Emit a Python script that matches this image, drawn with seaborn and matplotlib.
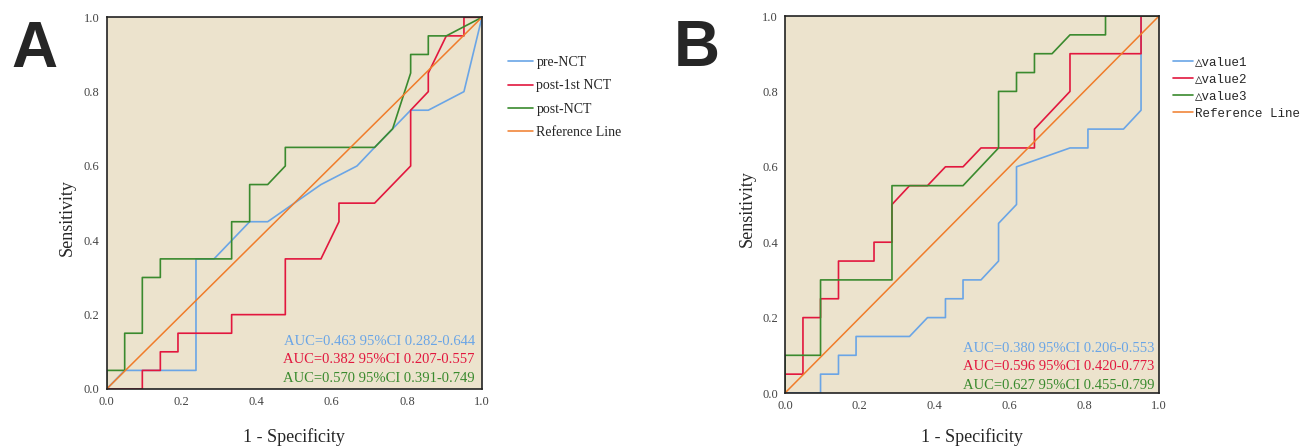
import matplotlib
matplotlib.use("Agg")
import matplotlib.pyplot as plt
import seaborn as sns

sns.set_style("white")
plt.rcParams["font.family"] = ["Liberation Serif", "DejaVu Serif"]

BG = "#ECE3CD"
BLUE = "#6AA5E6"
RED = "#E2173E"
GREEN = "#3A8A2E"
ORANGE = "#F07C2A"

# ---- panel A: ROC points (1 - specificity, sensitivity) ----
a_pre_x = [0, 0.048, 0.238, 0.238, 0.286, 0.381, 0.429, 0.571, 0.667, 0.714, 0.762, 0.810, 0.857, 0.952, 1.0]
a_pre_y = [0, 0.05, 0.05, 0.35, 0.35, 0.45, 0.45, 0.55, 0.60, 0.65, 0.70, 0.75, 0.75, 0.80, 1.0]

a_post1_x = [0, 0.095, 0.095, 0.143, 0.143, 0.190, 0.190, 0.333, 0.333, 0.476, 0.476, 0.571,
             0.619, 0.619, 0.714, 0.810, 0.810, 0.857, 0.857, 0.905, 0.952, 0.952, 1.0]
a_post1_y = [0, 0, 0.05, 0.05, 0.10, 0.10, 0.15, 0.15, 0.20, 0.20, 0.35, 0.35,
             0.45, 0.50, 0.50, 0.60, 0.75, 0.80, 0.85, 0.95, 0.95, 1.0, 1.0]

a_post_x = [0, 0, 0.048, 0.048, 0.095, 0.095, 0.143, 0.143, 0.333, 0.333, 0.381, 0.381,
            0.429, 0.476, 0.476, 0.714, 0.762, 0.810, 0.810, 0.857, 0.857, 0.905, 1.0]
a_post_y = [0, 0.05, 0.05, 0.15, 0.15, 0.30, 0.30, 0.35, 0.35, 0.45, 0.45, 0.55,
            0.55, 0.60, 0.65, 0.65, 0.70, 0.85, 0.90, 0.90, 0.95, 0.95, 1.0]

a_labels = ["pre-NCT", "post-1st NCT", "post-NCT", "Reference Line"]
a_auc = ["AUC=0.463 95%CI 0.282-0.644",
         "AUC=0.382 95%CI 0.207-0.557",
         "AUC=0.570 95%CI 0.391-0.749"]

# ---- panel B ----
b_v1_x = [0, 0.095, 0.095, 0.143, 0.143, 0.190, 0.190, 0.333, 0.381, 0.429, 0.429, 0.476, 0.476,
          0.524, 0.571, 0.571, 0.619, 0.619, 0.762, 0.810, 0.810, 0.905, 0.952, 0.952, 1.0]
b_v1_y = [0, 0, 0.05, 0.05, 0.10, 0.10, 0.15, 0.15, 0.20, 0.20, 0.25, 0.25, 0.30,
          0.30, 0.35, 0.45, 0.50, 0.60, 0.65, 0.65, 0.70, 0.70, 0.75, 1.0, 1.0]

b_v2_x = [0, 0, 0.048, 0.048, 0.095, 0.095, 0.143, 0.143, 0.238, 0.238, 0.286, 0.286,
          0.333, 0.381, 0.429, 0.476, 0.524, 0.667, 0.667, 0.762, 0.762, 0.952, 0.952, 1.0]
b_v2_y = [0, 0.05, 0.05, 0.20, 0.20, 0.25, 0.25, 0.35, 0.35, 0.40, 0.40, 0.50,
          0.55, 0.55, 0.60, 0.60, 0.65, 0.65, 0.70, 0.80, 0.90, 0.90, 1.0, 1.0]

b_v3_x = [0, 0, 0.095, 0.095, 0.286, 0.286, 0.476, 0.571, 0.571, 0.619, 0.619,
          0.667, 0.667, 0.714, 0.762, 0.857, 0.857, 1.0]
b_v3_y = [0, 0.10, 0.10, 0.30, 0.30, 0.55, 0.55, 0.65, 0.80, 0.80, 0.85,
          0.85, 0.90, 0.90, 0.95, 0.95, 1.0, 1.0]

b_labels = ["\u25b3value1", "\u25b3value2", "\u25b3value3", "Reference Line"]
b_auc = ["AUC=0.380 95%CI 0.206-0.553",
         "AUC=0.596 95%CI 0.420-0.773",
         "AUC=0.627 95%CI 0.455-0.799"]

ref_x = [0, 1]
ref_y = [0, 1]
ticks = [0.0, 0.2, 0.4, 0.6, 0.8, 1.0]
tick_labels = ["0.0", "0.2", "0.4", "0.6", "0.8", "1.0"]


def draw_panel(ax, curves, labels, auc_texts, auc_x, auc_y):
    ax.set_facecolor(BG)
    colors = [BLUE, RED, GREEN]
    for (xs, ys), lab, c in zip(curves, labels[:3], colors):
        sns.lineplot(x=xs, y=ys, sort=False, estimator=None, color=c, lw=1.2,
                     label=lab, ax=ax)
    sns.lineplot(x=ref_x, y=ref_y, sort=False, estimator=None, color=ORANGE, lw=1.1,
                 label=labels[3], ax=ax)
    ax.set_xlim(0, 1)
    ax.set_ylim(0, 1)
    ax.set_xticks(ticks)
    ax.set_xticklabels(tick_labels)
    ax.set_yticks(ticks)
    ax.set_yticklabels(tick_labels)
    ax.tick_params(length=0, labelsize=9, colors="#444444", pad=5)
    for s in ax.spines.values():
        s.set_color("#222222")
        s.set_linewidth(1.2)
    ax.set_xlabel("1 - Specificity", fontsize=13)
    ax.set_ylabel("Sensitivity", fontsize=13)
    for t, c, yy in zip(auc_texts, colors, auc_y):
        ax.text(auc_x, yy, t, color=c, fontsize=10.5, ha="right", va="center",
                transform=ax.transAxes)


fig = plt.figure(figsize=(13.04, 4.47), dpi=100)
axA = fig.add_axes([0.0818, 0.1298, 0.2878, 0.8315])
axB = fig.add_axes([0.6020, 0.1208, 0.2868, 0.8434])

draw_panel(axA, [(a_pre_x, a_pre_y), (a_post1_x, a_post1_y), (a_post_x, a_post_y)],
           a_labels, a_auc, 0.981, [0.127, 0.078, 0.027])
draw_panel(axB, [(b_v1_x, b_v1_y), (b_v2_x, b_v2_y), (b_v3_x, b_v3_y)],
           b_labels, b_auc, 0.987, [0.119, 0.069, 0.021])

axA.xaxis.set_label_coords(0.5, -0.105)
axA.yaxis.set_label_coords(-0.083, 0.46)
axB.xaxis.set_label_coords(0.5, -0.093)
axB.yaxis.set_label_coords(-0.077, 0.49)

axA.legend(loc="upper left", bbox_to_anchor=(1.069, 0.896), frameon=False,
           borderpad=0, borderaxespad=0, handlelength=1.8, handletextpad=0.25,
           labelspacing=0.75, fontsize=10)
axB.legend(loc="upper left", bbox_to_anchor=(1.037, 0.894), frameon=False,
           borderpad=0, borderaxespad=0, handlelength=1.6, handletextpad=0.2,
           labelspacing=0.42, prop={"family": ["Liberation Mono", "DejaVu Sans Mono", "DejaVu Sans"], "size": 9})

fig.text(34 / 1304, 1 - 50 / 447, "A", fontsize=46, fontweight="bold",
         family=["Liberation Sans", "DejaVu Sans"], ha="center", va="center")
fig.text(697 / 1304, 1 - 49 / 447, "B", fontsize=46, fontweight="bold",
         family=["Liberation Sans", "DejaVu Sans"], ha="center", va="center")

fig.savefig("out.png", dpi=100, facecolor="white")
